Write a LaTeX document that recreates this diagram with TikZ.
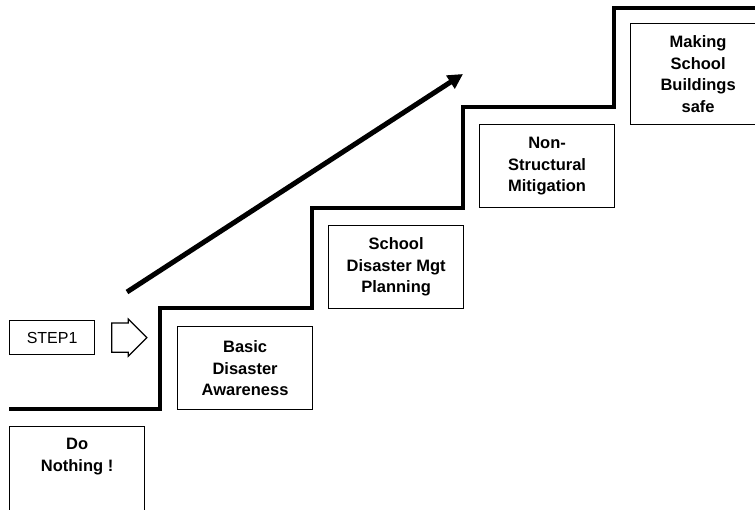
\documentclass[tikz,border=0pt]{standalone}
\usepackage{fontspec}
\setmainfont{Liberation Sans}
\usetikzlibrary{arrows.meta, positioning, shapes.arrows}

\begin{document}
\begin{tikzpicture}[x=1pt, y=-1pt, >={Triangle[length=15pt,width=15pt]},
  stepbox/.style={rectangle, draw, line width=1.2pt, minimum width=135pt, minimum height=83pt, align=center, font=\bfseries\fontsize{16.5}{21.5}\selectfont},
  tagbox/.style={rectangle, draw, line width=1.2pt, minimum width=85pt, minimum height=34pt, font=\fontsize{16}{19}\selectfont},
  pointer/.style={single arrow, draw, line width=1.2pt, inner xsep=0pt, inner ysep=14pt, minimum height=35pt, single arrow head extend=4pt},
  stair/.style={line width=4pt, line join=miter},
  rise/.style={->, line width=5pt}]
  \useasboundingbox (0,0) rectangle (755,509);
  \clip (0,0) rectangle (755,509);

  \node[stepbox, anchor=north west] (basic) at (177,326) {Basic\\Disaster\\Awareness};
  \node[stepbox, above right=101pt and 151pt of basic.north west, anchor=north west] (planning) {School\\Disaster Mgt\\Planning};
  \node[stepbox, above right=101pt and 151pt of planning.north west, anchor=north west] (mitigation) {Non-\\Structural\\Mitigation};
  \node[stepbox, minimum height=101pt, above right=101pt and 151pt of mitigation.north west, anchor=north west] (safe) {Making\\School\\Buildings\\safe};
  \node[stepbox, minimum height=100pt, below left=100pt and 168pt of basic.north west, anchor=north west,
        label={[font=\bfseries\fontsize{16.5}{21.5}\selectfont, align=center, anchor=north, yshift=-9pt]north:Do\\Nothing !}] (nothing) {};

  \node[tagbox, above=106pt of nothing.north west, anchor=north west] (step) {STEP1};
  \node[pointer, right=16pt of step] (go) {};

  % the stairs
  \draw[stair] (9,409) -| (160,308) -| (312,208) -| (463,107) -| (614,8) -- (760,8);

  \coordinate (risefrom) at (127,292);
  \coordinate (riseto) at (463,74);
  \draw[rise] (risefrom) -- (riseto);
\end{tikzpicture}
\end{document}
